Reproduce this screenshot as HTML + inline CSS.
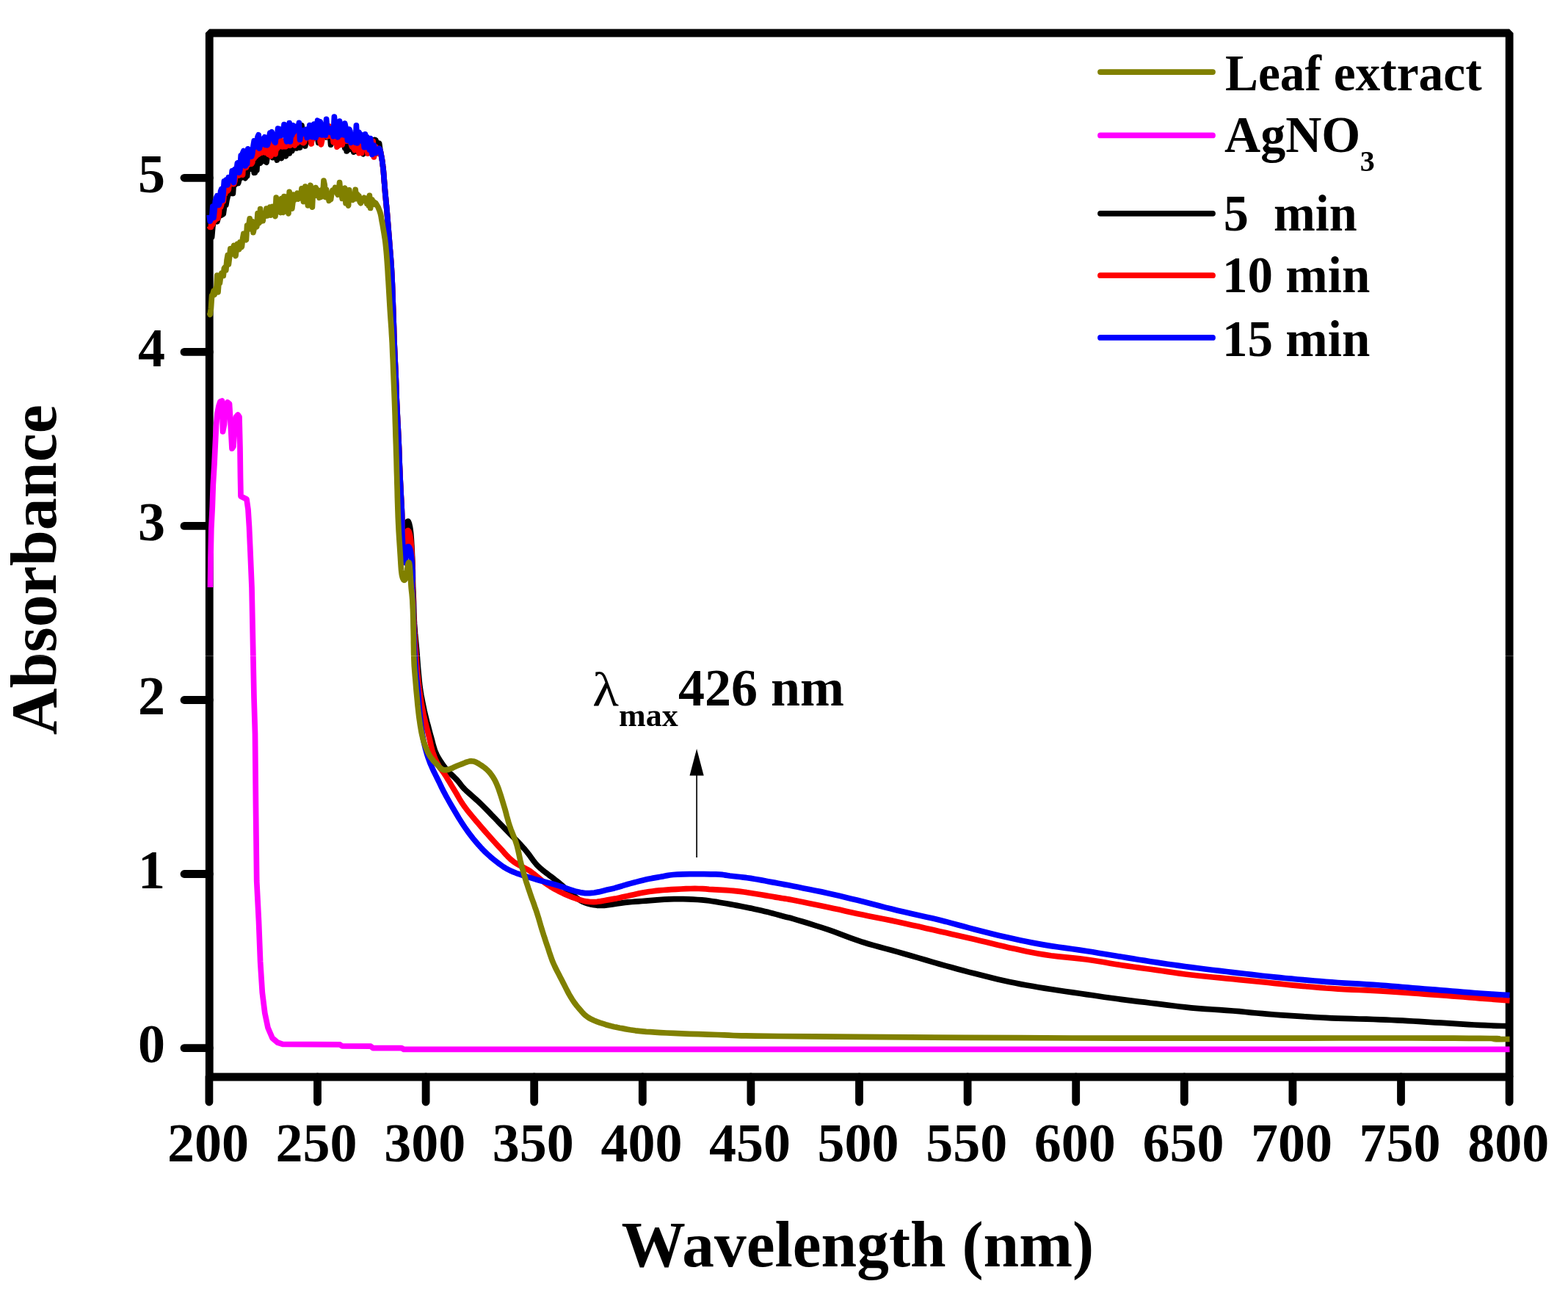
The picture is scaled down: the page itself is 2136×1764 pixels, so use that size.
<!DOCTYPE html>
<html><head><meta charset="utf-8"><style>
html,body{margin:0;padding:0;background:#fff;overflow:hidden;}
svg{display:block;}
text{font-family:"Liberation Serif","Times New Roman",serif;font-weight:bold;fill:#000;}
</style></head><body>
<svg width="2136" height="1764" viewBox="0 0 2136 1764">
<rect width="2136" height="1764" fill="#fff"/>
<g fill="none" stroke="#000" stroke-width="10.8" stroke-linecap="round">
<line x1="284.9" y1="1467.0" x2="284.9" y2="1501"/>
<line x1="432.5" y1="1467.0" x2="432.5" y2="1501"/>
<line x1="580.1" y1="1467.0" x2="580.1" y2="1501"/>
<line x1="727.7" y1="1467.0" x2="727.7" y2="1501"/>
<line x1="875.3" y1="1467.0" x2="875.3" y2="1501"/>
<line x1="1022.9" y1="1467.0" x2="1022.9" y2="1501"/>
<line x1="1170.5" y1="1467.0" x2="1170.5" y2="1501"/>
<line x1="1318.1" y1="1467.0" x2="1318.1" y2="1501"/>
<line x1="1465.7" y1="1467.0" x2="1465.7" y2="1501"/>
<line x1="1613.3" y1="1467.0" x2="1613.3" y2="1501"/>
<line x1="1760.9" y1="1467.0" x2="1760.9" y2="1501"/>
<line x1="1908.5" y1="1467.0" x2="1908.5" y2="1501"/>
<line x1="2056.1" y1="1467.0" x2="2056.1" y2="1501"/>
<line x1="251" y1="1427.6" x2="285.25" y2="1427.6"/>
<line x1="251" y1="1190.5" x2="285.25" y2="1190.5"/>
<line x1="251" y1="953.5" x2="285.25" y2="953.5"/>
<line x1="251" y1="716.4" x2="285.25" y2="716.4"/>
<line x1="251" y1="479.4" x2="285.25" y2="479.4"/>
<line x1="251" y1="242.3" x2="285.25" y2="242.3"/>
</g>
<rect x="285.25" y="45.0" width="1770.90" height="1422.00" fill="none" stroke="#000" stroke-width="10.8" stroke-linejoin="bevel"/>
<g fill="none" stroke-width="7.7" stroke-linejoin="round" stroke-linecap="butt">
<path d="M285.0 321.3 L286.2 326.4 L287.4 302.6 L288.6 322.8 L289.8 309.1 L291.0 301.7 L292.2 299.1 L293.4 294.7 L294.6 297.8 L295.8 301.9 L297.0 297.6 L298.2 295.2 L299.4 277.4 L300.6 275.5 L301.8 293.1 L303.0 286.6 L304.2 291.8 L305.4 283.2 L306.6 266.4 L307.8 279.2 L309.0 272.6 L310.2 267.7 L311.4 258.7 L312.6 261.8 L313.8 258.6 L315.0 263.3 L316.2 256.2 L317.4 263.5 L318.6 246.1 L319.8 252.1 L321.0 250.7 L322.2 240.3 L323.4 236.8 L324.6 249.6 L325.8 244.9 L327.0 239.4 L328.2 242.6 L329.4 235.2 L330.6 240.7 L331.8 234.5 L333.0 238.6 L334.2 242.8 L335.4 233.2 L336.6 240.0 L337.8 226.8 L339.0 230.6 L340.2 222.7 L341.4 229.9 L342.6 230.1 L343.8 227.3 L345.0 225.9 L346.2 235.3 L347.4 235.1 L348.6 217.2 L349.8 232.0 L351.0 212.4 L352.2 218.1 L353.4 221.0 L354.6 222.1 L355.8 213.7 L357.0 214.9 L358.2 219.2 L359.4 213.3 L360.6 212.7 L361.8 220.3 L363.0 221.1 L364.2 213.7 L365.4 213.3 L366.6 212.2 L367.8 208.5 L369.0 207.7 L370.2 203.9 L371.4 214.6 L372.6 209.5 L373.8 208.9 L375.0 210.8 L376.2 212.6 L377.4 218.1 L378.6 206.8 L379.8 205.6 L381.0 209.2 L382.2 202.1 L383.4 215.6 L384.6 213.0 L385.8 211.2 L387.0 205.6 L388.2 210.9 L389.4 212.6 L390.6 208.5 L391.8 202.6 L393.0 192.7 L394.2 208.9 L395.4 199.5 L396.6 195.4 L397.8 205.8 L399.0 201.3 L400.2 188.9 L401.4 196.6 L402.6 194.6 L403.8 201.9 L405.0 182.2 L406.2 191.1 L407.4 191.8 L408.6 201.0 L409.8 183.8 L411.0 170.9 L412.2 180.1 L413.4 189.9 L414.6 193.0 L415.8 198.9 L417.0 190.1 L418.2 182.1 L419.4 193.0 L420.6 187.0 L421.8 185.7 L423.0 187.0 L424.2 195.0 L425.4 180.7 L426.6 179.8 L427.8 185.9 L429.0 185.8 L430.2 180.8 L431.4 180.2 L432.6 188.3 L433.8 194.4 L435.0 190.2 L436.2 189.9 L437.4 193.4 L438.6 172.2 L439.8 175.2 L441.0 180.7 L442.2 177.9 L443.4 179.6 L444.6 186.9 L445.8 178.5 L447.0 184.3 L448.2 174.3 L449.4 181.6 L450.6 197.1 L451.8 185.2 L453.0 191.2 L454.2 194.1 L455.4 186.7 L456.6 194.0 L457.8 192.0 L459.0 195.5 L460.2 187.2 L461.4 182.4 L462.6 185.5 L463.8 189.0 L465.0 196.5 L466.2 192.1 L467.4 191.2 L468.6 193.1 L469.8 201.8 L471.0 191.6 L472.2 205.9 L473.4 188.8 L474.6 193.6 L475.8 203.7 L477.0 202.2 L478.2 194.0 L479.4 199.5 L480.6 196.3 L481.8 207.2 L483.0 205.9 L484.2 198.4 L485.4 206.1 L486.6 201.0 L487.8 202.8 L489.0 203.6 L490.2 199.4 L491.4 205.7 L492.6 205.8 L493.8 205.5 L495.0 209.8 L496.2 200.7 L497.4 192.7 L498.6 199.1 L499.8 203.4 L501.0 201.8 L502.2 205.0 L503.4 205.9 L504.6 199.4 L505.8 198.9 L507.0 192.6 L508.2 205.2 L509.4 196.2 L510.6 190.5 L511.8 190.9 L513.0 195.1 L514.2 201.3 L515.4 197.6 L516.6 195.2 L518.0 205.0 L518.3 206.4 L518.7 208.2 L519.1 210.4 L519.6 212.9 L520.1 215.5 L520.5 218.0 L520.9 220.5 L521.2 223.1 L521.5 225.8 L521.9 228.6 L522.2 231.7 L522.5 235.0 L522.8 238.6 L523.1 242.6 L523.4 246.7 L523.8 251.0 L524.1 255.5 L524.5 260.0 L524.9 264.6 L525.4 269.3 L525.8 274.1 L526.3 279.1 L526.8 284.4 L527.3 290.0 L527.8 296.1 L528.3 302.6 L528.9 309.4 L529.4 316.3 L530.0 323.2 L530.5 330.0 L531.0 336.6 L531.6 343.0 L532.1 349.4 L532.6 355.9 L533.1 362.8 L533.5 370.0 L533.9 377.8 L534.3 385.9 L534.6 394.4 L534.9 403.0 L535.2 411.6 L535.5 420.0 L535.8 428.4 L536.1 437.0 L536.4 445.6 L536.6 454.1 L536.9 462.2 L537.2 470.0 L537.5 477.2 L537.8 484.1 L538.1 490.6 L538.4 497.0 L538.7 503.4 L539.0 510.0 L539.3 516.6 L539.5 523.0 L539.7 529.4 L539.9 535.9 L540.2 542.8 L540.5 550.0 L540.9 557.8 L541.3 565.9 L541.7 574.4 L542.2 583.0 L542.6 591.6 L543.0 600.0 L543.4 608.4 L543.7 616.9 L544.0 625.3 L544.3 633.7 L544.7 642.0 L545.0 650.0 L545.4 658.0 L545.8 666.1 L546.2 674.1 L546.6 681.7 L547.0 688.7 L547.3 695.0 L547.5 700.3 L547.6 704.6 L547.7 708.4 L547.7 712.0 L547.8 715.8 L548.0 720.0 L548.3 724.9 L548.6 730.3 L548.9 735.8 L549.3 741.1 L549.7 746.0 L550.0 750.0 L550.3 753.7 L550.7 757.5 L551.0 760.8 L551.3 763.0 L551.7 763.6 L552.0 762.0 L552.3 757.2 L552.6 749.4 L552.9 740.0 L553.3 730.4 L553.6 721.9 L554.0 716.0 L554.4 712.6 L554.9 710.7 L555.4 710.0 L556.0 710.1 L556.5 710.9 L557.0 712.0 L557.5 713.5 L558.0 715.6 L558.6 718.2 L559.1 721.6 L559.6 725.5 L560.0 730.0 L560.4 735.6 L560.8 742.3 L561.2 749.6 L561.5 757.0 L561.8 763.9 L562.0 770.0 L562.2 775.0 L562.3 779.4 L562.3 783.4 L562.4 787.2 L562.4 791.0 L562.5 795.0 L562.6 799.1 L562.8 803.1 L563.0 807.2 L563.1 811.3 L563.3 815.5 L563.5 820.0 L563.6 824.6 L563.7 829.3 L563.8 834.1 L564.0 839.1 L564.2 844.4 L564.5 850.0 L565.0 856.3 L565.5 863.1 L566.2 870.3 L566.9 877.4 L567.5 884.1 L568.0 890.0 L568.4 895.0 L568.7 899.4 L569.0 903.3 L569.3 907.1 L569.6 910.9 L570.0 915.0 L570.4 919.3 L570.8 923.7 L571.2 928.1 L571.7 932.6 L572.3 937.2 L573.0 942.0 L573.8 946.9 L574.8 952.0 L575.8 957.2 L576.9 962.5 L578.0 967.8 L579.2 973.0 L580.5 978.3 L581.8 983.7 L583.3 989.1 L584.7 994.4 L586.0 999.4 L587.3 1004.0 L588.4 1008.1 L589.4 1011.9 L590.3 1015.4 L591.3 1018.7 L592.3 1021.9 L593.5 1025.0 L594.9 1028.0 L596.4 1030.9 L598.0 1033.7 L599.7 1036.3 L601.3 1038.7 L602.8 1041.0 L604.2 1043.0 L605.5 1044.7 L606.7 1046.2 L608.0 1047.7 L609.4 1049.3 L611.0 1051.0 L612.8 1052.9 L614.8 1054.9 L616.9 1056.9 L619.0 1058.9 L621.1 1061.0 L623.0 1063.0 L624.6 1064.9 L626.0 1066.7 L627.3 1068.4 L628.8 1070.3 L630.6 1072.5 L633.0 1075.0 L636.0 1077.9 L639.5 1081.0 L643.3 1084.4 L647.4 1088.0 L651.7 1091.9 L656.0 1096.0 L660.5 1100.4 L665.2 1105.2 L670.0 1110.3 L675.0 1115.4 L679.9 1120.6 L684.8 1125.7 L689.8 1130.8 L694.9 1136.0 L700.1 1141.2 L705.1 1146.3 L709.7 1151.2 L713.9 1155.8 L717.5 1160.1 L720.6 1164.1 L723.4 1168.0 L726.0 1171.6 L728.6 1174.9 L731.2 1178.0 L733.9 1180.7 L736.5 1183.1 L739.1 1185.2 L741.6 1187.2 L744.1 1189.1 L746.6 1191.0 L749.0 1192.9 L751.4 1194.7 L753.7 1196.4 L756.0 1198.2 L758.4 1200.0 L760.9 1202.0 L763.5 1204.2 L766.1 1206.5 L768.8 1208.9 L771.5 1211.3 L774.2 1213.7 L777.0 1216.0 L779.7 1218.3 L782.4 1220.6 L785.1 1222.8 L787.9 1224.9 L790.9 1226.9 L794.2 1228.5 L797.7 1229.9 L801.3 1231.1 L805.1 1232.0 L809.1 1232.8 L813.4 1233.3 L818.0 1233.5 L823.1 1233.3 L828.6 1232.7 L834.3 1231.9 L840.2 1231.0 L845.9 1230.1 L851.3 1229.4 L856.2 1228.9 L860.9 1228.5 L865.4 1228.1 L869.9 1227.8 L874.7 1227.5 L880.0 1227.1 L885.8 1226.7 L892.0 1226.2 L898.4 1225.7 L905.0 1225.2 L911.6 1224.9 L918.0 1224.7 L924.4 1224.7 L931.0 1224.7 L937.6 1224.9 L944.0 1225.2 L950.2 1225.5 L956.0 1225.9 L961.3 1226.4 L966.3 1227.0 L970.9 1227.7 L975.5 1228.4 L980.0 1229.2 L984.7 1230.0 L989.5 1230.8 L994.2 1231.6 L999.0 1232.5 L1003.7 1233.4 L1008.4 1234.3 L1013.2 1235.2 L1018.0 1236.2 L1022.7 1237.1 L1027.5 1238.2 L1032.3 1239.2 L1037.0 1240.3 L1041.8 1241.4 L1046.8 1242.6 L1052.0 1244.0 L1057.2 1245.4 L1062.2 1246.8 L1066.6 1248.0 L1070.3 1249.0 L1072.6 1249.6 L1073.5 1249.7 L1074.0 1249.8 L1074.7 1249.9 L1076.4 1250.3 L1080.0 1251.4 L1085.7 1253.1 L1093.1 1255.3 L1101.4 1257.8 L1110.3 1260.6 L1119.2 1263.4 L1127.6 1266.1 L1135.5 1268.9 L1143.4 1271.8 L1151.3 1274.8 L1159.3 1277.8 L1167.2 1280.6 L1175.1 1283.3 L1182.9 1285.7 L1190.6 1287.9 L1198.3 1290.0 L1206.1 1292.1 L1214.2 1294.2 L1222.7 1296.6 L1231.8 1299.2 L1241.4 1302.0 L1251.4 1304.9 L1261.3 1307.8 L1270.9 1310.6 L1280.0 1313.2 L1288.5 1315.6 L1296.6 1317.8 L1304.4 1320.0 L1312.1 1322.0 L1319.8 1324.1 L1327.6 1326.1 L1335.5 1328.1 L1343.4 1330.1 L1351.3 1332.1 L1359.3 1334.0 L1367.2 1335.8 L1375.1 1337.5 L1382.9 1339.1 L1390.6 1340.6 L1398.3 1342.0 L1406.1 1343.3 L1414.2 1344.7 L1422.7 1346.1 L1431.8 1347.5 L1441.4 1349.0 L1451.4 1350.5 L1461.3 1351.9 L1470.9 1353.3 L1480.0 1354.6 L1488.5 1355.8 L1496.6 1357.0 L1504.4 1358.2 L1512.1 1359.3 L1519.8 1360.3 L1527.6 1361.4 L1535.5 1362.4 L1543.4 1363.4 L1551.3 1364.3 L1559.3 1365.2 L1567.2 1366.2 L1575.1 1367.1 L1582.9 1368.1 L1590.6 1369.1 L1598.3 1370.0 L1606.1 1371.0 L1614.2 1371.9 L1622.7 1372.8 L1631.8 1373.6 L1641.4 1374.3 L1651.4 1375.0 L1661.3 1375.6 L1670.9 1376.3 L1680.0 1377.0 L1688.5 1377.7 L1696.6 1378.5 L1704.4 1379.3 L1712.1 1380.0 L1719.8 1380.7 L1727.6 1381.4 L1735.5 1382.0 L1743.4 1382.6 L1751.3 1383.2 L1759.3 1383.7 L1767.2 1384.2 L1775.1 1384.7 L1782.9 1385.2 L1790.6 1385.6 L1798.3 1386.0 L1806.1 1386.4 L1814.2 1386.8 L1822.7 1387.1 L1831.8 1387.4 L1841.5 1387.7 L1851.5 1388.0 L1861.4 1388.2 L1871.0 1388.5 L1880.0 1388.8 L1888.2 1389.1 L1896.0 1389.5 L1903.4 1389.8 L1910.6 1390.2 L1917.8 1390.6 L1925.2 1391.0 L1932.7 1391.4 L1940.3 1391.9 L1947.8 1392.3 L1955.3 1392.8 L1962.9 1393.2 L1970.4 1393.7 L1978.0 1394.2 L1985.6 1394.6 L1993.3 1395.1 L2000.9 1395.6 L2008.3 1396.0 L2015.6 1396.4 L2023.1 1396.7 L2031.1 1397.0 L2038.9 1397.3 L2046.1 1397.5 L2052.1 1397.7 L2056.5 1397.8" stroke="#000000"/>
<path d="M285.0 307.4 L286.2 309.4 L287.4 309.4 L288.6 296.8 L289.8 305.8 L291.0 300.1 L292.2 301.0 L293.4 295.3 L294.6 298.6 L295.8 282.4 L297.0 297.4 L298.2 291.1 L299.4 276.7 L300.6 282.3 L301.8 278.3 L303.0 261.5 L304.2 274.2 L305.4 264.3 L306.6 264.3 L307.8 259.9 L309.0 258.9 L310.2 259.9 L311.4 257.9 L312.6 245.0 L313.8 251.3 L315.0 242.3 L316.2 240.8 L317.4 244.8 L318.6 250.6 L319.8 247.1 L321.0 237.1 L322.2 234.4 L323.4 231.6 L324.6 235.9 L325.8 239.0 L327.0 231.4 L328.2 234.8 L329.4 231.4 L330.6 238.1 L331.8 214.3 L333.0 212.4 L334.2 223.9 L335.4 228.3 L336.6 220.4 L337.8 224.8 L339.0 213.3 L340.2 211.7 L341.4 214.2 L342.6 223.3 L343.8 221.3 L345.0 211.0 L346.2 215.8 L347.4 209.5 L348.6 213.0 L349.8 204.8 L351.0 211.0 L352.2 205.7 L353.4 209.3 L354.6 204.6 L355.8 202.6 L357.0 207.9 L358.2 204.1 L359.4 205.7 L360.6 202.0 L361.8 207.9 L363.0 197.7 L364.2 207.2 L365.4 210.1 L366.6 198.8 L367.8 211.1 L369.0 212.6 L370.2 202.1 L371.4 190.2 L372.6 188.3 L373.8 197.4 L375.0 209.9 L376.2 201.9 L377.4 202.8 L378.6 196.1 L379.8 192.6 L381.0 199.7 L382.2 189.8 L383.4 195.5 L384.6 199.9 L385.8 196.6 L387.0 199.6 L388.2 193.0 L389.4 199.6 L390.6 198.1 L391.8 184.4 L393.0 188.0 L394.2 189.7 L395.4 198.2 L396.6 195.5 L397.8 194.9 L399.0 193.8 L400.2 196.4 L401.4 197.9 L402.6 187.8 L403.8 180.6 L405.0 194.8 L406.2 188.7 L407.4 190.0 L408.6 188.1 L409.8 181.5 L411.0 178.5 L412.2 194.2 L413.4 194.6 L414.6 193.3 L415.8 188.3 L417.0 188.4 L418.2 183.6 L419.4 186.5 L420.6 183.1 L421.8 181.9 L423.0 186.5 L424.2 195.9 L425.4 172.3 L426.6 188.2 L427.8 188.4 L429.0 175.8 L430.2 185.4 L431.4 183.8 L432.6 179.8 L433.8 179.3 L435.0 173.1 L436.2 193.0 L437.4 196.9 L438.6 191.7 L439.8 179.2 L441.0 183.1 L442.2 184.0 L443.4 176.6 L444.6 180.5 L445.8 186.0 L447.0 180.1 L448.2 171.7 L449.4 175.3 L450.6 185.5 L451.8 182.0 L453.0 182.5 L454.2 193.6 L455.4 185.7 L456.6 194.8 L457.8 185.3 L459.0 200.1 L460.2 179.1 L461.4 198.3 L462.6 196.4 L463.8 186.3 L465.0 185.5 L466.2 197.2 L467.4 189.9 L468.6 185.2 L469.8 175.8 L471.0 190.6 L472.2 192.1 L473.4 190.7 L474.6 189.0 L475.8 192.3 L477.0 189.6 L478.2 195.9 L479.4 200.0 L480.6 200.7 L481.8 201.9 L483.0 204.4 L484.2 200.1 L485.4 191.8 L486.6 202.5 L487.8 186.0 L489.0 208.6 L490.2 199.7 L491.4 187.4 L492.6 208.4 L493.8 192.8 L495.0 190.2 L496.2 195.5 L497.4 196.0 L498.6 201.3 L499.8 201.0 L501.0 209.2 L502.2 201.9 L503.4 204.5 L504.6 197.4 L505.8 207.5 L507.0 199.6 L508.2 192.4 L509.4 213.9 L510.6 199.0 L511.8 200.1 L513.0 202.9 L514.2 209.0 L515.4 204.8 L516.6 207.7 L518.0 205.0 L518.3 206.4 L518.7 208.2 L519.1 210.4 L519.6 212.9 L520.1 215.5 L520.5 218.0 L520.9 220.5 L521.2 223.1 L521.5 225.8 L521.9 228.6 L522.2 231.7 L522.5 235.0 L522.8 238.6 L523.1 242.6 L523.4 246.7 L523.8 251.0 L524.1 255.5 L524.5 260.0 L524.9 264.6 L525.4 269.3 L525.8 274.1 L526.3 279.1 L526.8 284.4 L527.3 290.0 L527.8 296.1 L528.3 302.6 L528.9 309.4 L529.4 316.3 L530.0 323.2 L530.5 330.0 L531.0 336.6 L531.6 343.0 L532.1 349.4 L532.6 355.9 L533.1 362.8 L533.5 370.0 L533.9 377.8 L534.3 385.9 L534.6 394.4 L534.9 403.0 L535.2 411.6 L535.5 420.0 L535.8 428.4 L536.1 437.0 L536.4 445.6 L536.6 454.1 L536.9 462.2 L537.2 470.0 L537.5 477.2 L537.8 484.1 L538.1 490.6 L538.4 497.0 L538.7 503.4 L539.0 510.0 L539.3 516.6 L539.5 523.0 L539.7 529.4 L539.9 535.9 L540.2 542.8 L540.5 550.0 L540.9 557.8 L541.3 565.9 L541.7 574.4 L542.2 583.0 L542.6 591.6 L543.0 600.0 L543.4 608.4 L543.7 616.9 L544.0 625.3 L544.3 633.7 L544.7 642.0 L545.0 650.0 L545.4 658.0 L545.8 665.9 L546.2 673.8 L546.6 681.3 L547.0 688.4 L547.3 695.0 L547.5 700.9 L547.6 706.1 L547.7 710.9 L547.7 715.6 L547.8 720.2 L548.0 725.0 L548.3 730.2 L548.6 735.7 L548.9 741.2 L549.3 746.5 L549.7 751.2 L550.0 755.0 L550.3 758.4 L550.7 761.6 L551.0 764.2 L551.3 765.9 L551.7 766.3 L552.0 765.0 L552.3 761.2 L552.6 754.9 L552.9 747.4 L553.3 739.6 L553.6 732.8 L554.0 728.0 L554.4 725.2 L554.9 723.5 L555.4 722.7 L556.0 722.6 L556.5 723.1 L557.0 724.0 L557.5 725.3 L558.0 727.1 L558.6 729.6 L559.1 732.5 L559.6 736.0 L560.0 740.0 L560.4 744.9 L560.8 750.7 L561.2 757.1 L561.5 763.6 L561.8 769.7 L562.0 775.0 L562.1 779.4 L562.1 783.3 L562.1 786.8 L562.0 790.1 L562.0 793.4 L562.0 797.0 L562.1 800.7 L562.3 804.3 L562.4 808.0 L562.6 811.8 L562.8 815.8 L563.0 820.0 L563.1 824.5 L563.3 829.1 L563.4 833.9 L563.6 839.0 L563.7 844.3 L564.0 850.0 L564.3 856.3 L564.7 863.1 L565.2 870.3 L565.6 877.4 L566.1 884.1 L566.5 890.0 L566.8 895.0 L567.2 899.4 L567.5 903.3 L567.8 907.1 L568.1 910.9 L568.5 915.0 L568.9 919.3 L569.4 923.7 L569.8 928.1 L570.4 932.6 L570.9 937.2 L571.6 942.0 L572.3 946.9 L573.2 952.0 L574.0 957.2 L575.0 962.5 L576.0 967.8 L577.0 973.0 L578.2 978.3 L579.4 983.7 L580.8 989.1 L582.1 994.4 L583.4 999.4 L584.5 1004.0 L585.5 1008.1 L586.3 1011.9 L587.1 1015.4 L587.9 1018.7 L588.7 1021.8 L589.7 1025.0 L590.8 1028.1 L591.9 1031.1 L593.1 1034.0 L594.4 1036.8 L595.7 1039.4 L597.0 1042.0 L598.3 1044.3 L599.7 1046.3 L601.1 1048.1 L602.6 1050.1 L604.2 1052.3 L606.0 1055.0 L608.1 1058.3 L610.3 1062.0 L612.8 1066.0 L615.2 1070.1 L617.7 1074.2 L620.0 1078.0 L622.1 1081.5 L624.0 1084.9 L625.9 1088.2 L628.0 1091.6 L630.3 1095.1 L633.0 1099.0 L636.2 1103.3 L639.9 1107.9 L643.8 1112.6 L647.9 1117.5 L652.0 1122.3 L656.0 1127.0 L660.0 1131.6 L664.1 1136.3 L668.2 1140.9 L672.3 1145.5 L676.3 1149.8 L680.0 1153.8 L683.4 1157.5 L686.5 1161.1 L689.5 1164.4 L692.5 1167.5 L695.6 1170.5 L699.0 1173.3 L702.7 1175.9 L706.6 1178.1 L710.6 1180.3 L714.7 1182.4 L718.8 1184.6 L722.8 1187.1 L726.7 1190.0 L730.6 1193.1 L734.4 1196.3 L738.3 1199.5 L742.4 1202.7 L746.6 1205.6 L751.1 1208.4 L755.7 1211.1 L760.6 1213.7 L765.4 1216.1 L770.3 1218.4 L775.1 1220.4 L779.9 1222.3 L784.6 1224.0 L789.4 1225.6 L794.2 1226.9 L798.9 1227.9 L803.7 1228.5 L808.5 1228.6 L813.4 1228.3 L818.3 1227.6 L823.1 1226.7 L827.8 1225.9 L832.2 1225.1 L836.3 1224.4 L840.1 1223.7 L843.8 1222.9 L847.4 1222.1 L851.1 1221.3 L855.0 1220.5 L859.0 1219.6 L863.0 1218.7 L867.1 1217.8 L871.3 1216.8 L875.6 1216.0 L880.0 1215.2 L884.4 1214.5 L888.9 1214.0 L893.4 1213.4 L898.2 1212.9 L903.2 1212.5 L908.5 1212.1 L914.4 1211.7 L920.8 1211.3 L927.5 1211.0 L934.3 1210.7 L940.7 1210.5 L946.6 1210.4 L951.9 1210.5 L956.8 1210.6 L961.4 1210.9 L965.9 1211.3 L970.5 1211.6 L975.1 1211.9 L979.9 1212.2 L984.6 1212.4 L989.4 1212.7 L994.2 1213.0 L998.9 1213.3 L1003.7 1213.8 L1008.5 1214.4 L1013.2 1215.0 L1018.0 1215.7 L1022.7 1216.5 L1027.4 1217.2 L1032.2 1218.0 L1037.1 1218.8 L1042.1 1219.6 L1047.1 1220.5 L1052.0 1221.3 L1056.6 1222.1 L1060.8 1222.8 L1064.2 1223.4 L1066.8 1223.7 L1069.2 1224.1 L1071.8 1224.5 L1075.3 1225.1 L1080.0 1226.0 L1086.3 1227.2 L1093.8 1228.7 L1102.0 1230.4 L1110.7 1232.2 L1119.3 1234.0 L1127.6 1235.7 L1135.5 1237.4 L1143.4 1239.1 L1151.3 1240.9 L1159.3 1242.7 L1167.2 1244.4 L1175.1 1246.1 L1182.9 1247.7 L1190.6 1249.2 L1198.3 1250.7 L1206.1 1252.3 L1214.2 1253.9 L1222.7 1255.7 L1231.8 1257.7 L1241.4 1259.9 L1251.4 1262.1 L1261.3 1264.4 L1270.9 1266.6 L1280.0 1268.7 L1288.5 1270.6 L1296.6 1272.4 L1304.4 1274.2 L1312.1 1275.9 L1319.8 1277.7 L1327.6 1279.5 L1335.5 1281.4 L1343.4 1283.3 L1351.3 1285.3 L1359.3 1287.2 L1367.2 1289.1 L1375.1 1290.9 L1382.9 1292.6 L1390.6 1294.3 L1398.3 1296.0 L1406.1 1297.5 L1414.2 1299.0 L1422.7 1300.4 L1431.8 1301.7 L1441.4 1302.8 L1451.4 1303.8 L1461.3 1304.8 L1470.9 1305.9 L1480.0 1307.0 L1488.5 1308.2 L1496.6 1309.5 L1504.4 1310.8 L1512.1 1312.2 L1519.8 1313.5 L1527.6 1314.7 L1535.5 1315.9 L1543.4 1317.0 L1551.3 1318.1 L1559.3 1319.2 L1567.2 1320.3 L1575.1 1321.4 L1582.9 1322.5 L1590.6 1323.6 L1598.3 1324.8 L1606.1 1325.9 L1614.2 1327.0 L1622.7 1328.0 L1631.8 1329.0 L1641.4 1330.0 L1651.4 1331.0 L1661.3 1331.9 L1670.9 1332.8 L1680.0 1333.7 L1688.5 1334.6 L1696.6 1335.4 L1704.4 1336.2 L1712.1 1336.9 L1719.8 1337.7 L1727.6 1338.5 L1735.5 1339.3 L1743.4 1340.1 L1751.3 1341.0 L1759.3 1341.8 L1767.2 1342.6 L1775.1 1343.3 L1782.9 1344.0 L1790.6 1344.7 L1798.3 1345.3 L1806.1 1346.0 L1814.2 1346.5 L1822.7 1347.1 L1831.8 1347.6 L1841.5 1348.1 L1851.5 1348.5 L1861.4 1348.9 L1871.0 1349.3 L1880.0 1349.8 L1888.2 1350.3 L1896.0 1350.8 L1903.4 1351.4 L1910.6 1351.9 L1917.8 1352.5 L1925.2 1353.0 L1932.7 1353.5 L1940.3 1354.1 L1947.8 1354.6 L1955.3 1355.1 L1962.9 1355.6 L1970.4 1356.2 L1978.0 1356.8 L1985.6 1357.4 L1993.3 1358.0 L2000.9 1358.6 L2008.3 1359.2 L2015.6 1359.8 L2023.1 1360.4 L2031.1 1361.0 L2038.9 1361.6 L2046.1 1362.1 L2052.1 1362.6 L2056.5 1362.9" stroke="#ff0000"/>
<path d="M285.0 292.8 L286.2 301.3 L287.4 296.5 L288.6 297.6 L289.8 281.2 L291.0 296.6 L292.2 286.1 L293.4 273.7 L294.6 269.5 L295.8 266.8 L297.0 268.2 L298.2 279.5 L299.4 274.3 L300.6 260.4 L301.8 257.4 L303.0 272.9 L304.2 262.2 L305.4 246.8 L306.6 249.1 L307.8 245.1 L309.0 247.9 L310.2 251.9 L311.4 241.7 L312.6 245.0 L313.8 245.1 L315.0 245.3 L316.2 232.9 L317.4 234.1 L318.6 248.6 L319.8 230.6 L321.0 230.3 L322.2 231.5 L323.4 222.0 L324.6 221.5 L325.8 235.2 L327.0 230.8 L328.2 211.9 L329.4 219.8 L330.6 208.6 L331.8 205.6 L333.0 215.8 L334.2 226.0 L335.4 212.7 L336.6 223.1 L337.8 202.9 L339.0 210.6 L340.2 209.0 L341.4 207.7 L342.6 213.3 L343.8 208.9 L345.0 199.2 L346.2 192.0 L347.4 196.9 L348.6 199.9 L349.8 194.9 L351.0 186.6 L352.2 183.8 L353.4 202.1 L354.6 196.9 L355.8 189.6 L357.0 196.3 L358.2 195.7 L359.4 189.3 L360.6 186.7 L361.8 197.5 L363.0 194.3 L364.2 197.7 L365.4 193.5 L366.6 187.0 L367.8 181.1 L369.0 181.7 L370.2 179.8 L371.4 184.7 L372.6 185.7 L373.8 192.9 L375.0 194.2 L376.2 183.9 L377.4 186.9 L378.6 175.2 L379.8 178.9 L381.0 175.8 L382.2 184.8 L383.4 179.8 L384.6 178.0 L385.8 183.5 L387.0 169.6 L388.2 182.9 L389.4 187.0 L390.6 192.8 L391.8 174.6 L393.0 180.1 L394.2 167.7 L395.4 192.8 L396.6 181.2 L397.8 184.1 L399.0 170.8 L400.2 180.1 L401.4 177.1 L402.6 172.4 L403.8 172.4 L405.0 173.9 L406.2 174.3 L407.4 167.4 L408.6 190.2 L409.8 179.8 L411.0 180.7 L412.2 180.3 L413.4 177.4 L414.6 178.3 L415.8 182.7 L417.0 176.3 L418.2 187.6 L419.4 176.2 L420.6 186.2 L421.8 170.6 L423.0 179.3 L424.2 182.1 L425.4 186.6 L426.6 186.5 L427.8 169.1 L429.0 171.3 L430.2 187.5 L431.4 172.9 L432.6 164.2 L433.8 183.5 L435.0 179.5 L436.2 165.9 L437.4 170.2 L438.6 183.8 L439.8 170.8 L441.0 170.1 L442.2 171.3 L443.4 184.2 L444.6 162.4 L445.8 177.2 L447.0 175.4 L448.2 178.0 L449.4 180.1 L450.6 175.1 L451.8 179.3 L453.0 178.5 L454.2 185.8 L455.4 159.0 L456.6 174.9 L457.8 176.8 L459.0 166.6 L460.2 186.8 L461.4 181.0 L462.6 165.2 L463.8 176.0 L465.0 183.5 L466.2 179.5 L467.4 173.7 L468.6 183.9 L469.8 168.2 L471.0 173.8 L472.2 179.4 L473.4 191.2 L474.6 191.0 L475.8 176.0 L477.0 179.0 L478.2 194.5 L479.4 189.2 L480.6 185.9 L481.8 183.8 L483.0 188.2 L484.2 194.1 L485.4 170.9 L486.6 194.9 L487.8 182.5 L489.0 180.2 L490.2 185.6 L491.4 183.0 L492.6 184.3 L493.8 192.6 L495.0 189.7 L496.2 200.7 L497.4 182.8 L498.6 200.5 L499.8 186.5 L501.0 197.2 L502.2 194.2 L503.4 204.1 L504.6 188.5 L505.8 199.0 L507.0 210.5 L508.2 208.9 L509.4 198.2 L510.6 206.4 L511.8 208.2 L513.0 204.4 L514.2 206.5 L515.4 204.9 L516.6 202.3 L518.0 205.0 L518.3 206.4 L518.7 208.2 L519.1 210.4 L519.6 212.9 L520.1 215.5 L520.5 218.0 L520.9 220.5 L521.2 223.1 L521.5 225.8 L521.9 228.6 L522.2 231.7 L522.5 235.0 L522.8 238.6 L523.1 242.6 L523.4 246.7 L523.8 251.0 L524.1 255.5 L524.5 260.0 L524.9 264.6 L525.4 269.3 L525.8 274.1 L526.3 279.1 L526.8 284.4 L527.3 290.0 L527.8 296.1 L528.3 302.6 L528.9 309.4 L529.4 316.3 L530.0 323.2 L530.5 330.0 L531.0 336.6 L531.6 343.0 L532.1 349.4 L532.6 355.9 L533.1 362.8 L533.5 370.0 L533.9 377.8 L534.3 385.9 L534.6 394.4 L534.9 403.0 L535.2 411.6 L535.5 420.0 L535.8 428.4 L536.1 437.0 L536.4 445.6 L536.6 454.1 L536.9 462.2 L537.2 470.0 L537.5 477.2 L537.8 484.1 L538.1 490.6 L538.4 497.0 L538.7 503.4 L539.0 510.0 L539.3 516.6 L539.5 523.0 L539.7 529.4 L539.9 535.9 L540.2 542.8 L540.5 550.0 L540.9 557.8 L541.3 565.9 L541.7 574.4 L542.2 583.0 L542.6 591.6 L543.0 600.0 L543.4 608.4 L543.7 616.9 L544.0 625.3 L544.3 633.7 L544.7 642.0 L545.0 650.0 L545.4 657.9 L545.8 665.7 L546.2 673.4 L546.6 680.9 L547.0 688.1 L547.3 695.0 L547.5 701.5 L547.6 707.7 L547.7 713.6 L547.7 719.2 L547.8 724.7 L548.0 730.0 L548.3 735.3 L548.6 740.6 L548.9 745.7 L549.3 750.4 L549.7 754.6 L550.0 758.0 L550.3 760.8 L550.7 763.1 L551.0 764.9 L551.3 766.0 L551.7 766.4 L552.0 766.0 L552.3 764.3 L552.6 761.4 L552.9 757.7 L553.3 753.9 L553.6 750.4 L554.0 748.0 L554.4 746.5 L554.9 745.4 L555.4 744.8 L556.0 744.5 L556.5 744.6 L557.0 745.0 L557.5 745.7 L558.0 746.8 L558.6 748.2 L559.1 750.1 L559.6 752.3 L560.0 755.0 L560.4 758.4 L560.8 762.4 L561.2 766.9 L561.6 771.5 L561.8 775.9 L562.0 780.0 L562.0 783.6 L562.0 787.0 L561.8 790.3 L561.6 793.5 L561.5 796.7 L561.5 800.0 L561.6 803.2 L561.7 806.3 L561.9 809.4 L562.1 812.6 L562.3 816.1 L562.5 820.0 L562.7 824.3 L562.8 828.9 L563.0 833.8 L563.1 838.9 L563.3 844.3 L563.5 850.0 L563.7 856.3 L564.0 863.1 L564.2 870.3 L564.5 877.4 L564.7 884.1 L565.0 890.0 L565.2 895.0 L565.4 899.4 L565.7 903.3 L565.9 907.1 L566.2 910.9 L566.5 915.0 L566.9 919.3 L567.4 923.7 L567.9 928.1 L568.5 932.6 L569.0 937.2 L569.5 942.0 L569.9 946.9 L570.3 952.0 L570.7 957.2 L571.1 962.5 L571.5 967.8 L572.0 973.0 L572.6 978.3 L573.2 983.7 L573.8 989.1 L574.5 994.4 L575.3 999.4 L576.0 1004.0 L576.8 1008.1 L577.6 1011.9 L578.4 1015.4 L579.2 1018.7 L580.1 1021.8 L581.0 1025.0 L581.9 1028.1 L582.8 1030.9 L583.8 1033.7 L584.8 1036.4 L585.8 1039.2 L587.0 1042.0 L588.2 1044.8 L589.4 1047.5 L590.7 1050.3 L592.1 1053.2 L593.7 1056.4 L595.5 1060.0 L597.5 1064.0 L599.6 1068.4 L601.8 1073.0 L604.3 1077.9 L607.0 1083.1 L610.0 1088.5 L613.3 1094.4 L617.0 1100.8 L621.0 1107.5 L625.0 1114.2 L629.1 1120.7 L633.0 1126.6 L636.8 1132.0 L640.6 1137.2 L644.4 1142.1 L648.3 1146.8 L652.1 1151.2 L656.0 1155.5 L660.0 1159.6 L664.1 1163.5 L668.2 1167.2 L672.3 1170.6 L676.3 1173.8 L680.0 1176.6 L683.3 1179.0 L686.3 1181.1 L689.2 1182.8 L692.1 1184.4 L695.3 1186.0 L699.0 1187.6 L703.2 1189.3 L707.8 1190.9 L712.7 1192.5 L717.7 1194.1 L722.7 1195.6 L727.6 1197.1 L732.2 1198.5 L736.6 1199.7 L741.1 1200.9 L745.7 1202.2 L750.6 1203.5 L756.1 1205.0 L762.3 1206.9 L769.0 1209.2 L776.1 1211.6 L783.3 1213.9 L790.4 1215.6 L797.0 1216.6 L803.3 1216.7 L809.6 1216.0 L815.7 1214.9 L821.6 1213.5 L827.1 1212.1 L832.2 1210.9 L836.7 1209.9 L840.6 1208.8 L844.2 1207.7 L847.7 1206.7 L851.2 1205.6 L855.0 1204.5 L859.1 1203.4 L863.4 1202.3 L867.7 1201.1 L872.0 1200.0 L876.2 1199.0 L880.0 1198.1 L883.5 1197.3 L886.6 1196.7 L889.6 1196.1 L892.5 1195.6 L895.6 1195.1 L899.0 1194.5 L902.4 1193.9 L905.5 1193.2 L908.8 1192.6 L912.6 1192.0 L917.1 1191.5 L922.8 1191.1 L930.3 1190.9 L939.4 1190.7 L949.2 1190.7 L959.1 1190.7 L968.0 1190.8 L975.1 1190.9 L980.1 1191.1 L983.6 1191.4 L986.1 1191.7 L988.4 1192.1 L990.9 1192.5 L994.2 1193.0 L998.4 1193.5 L1003.0 1194.0 L1007.9 1194.5 L1012.8 1195.1 L1017.8 1195.7 L1022.7 1196.4 L1027.5 1197.2 L1032.2 1198.0 L1037.0 1198.9 L1041.8 1199.8 L1046.5 1200.7 L1051.3 1201.6 L1055.9 1202.4 L1060.2 1203.2 L1064.5 1204.0 L1069.0 1204.9 L1074.1 1205.8 L1080.0 1207.0 L1086.8 1208.3 L1094.5 1209.9 L1102.6 1211.5 L1111.0 1213.2 L1119.5 1214.9 L1127.6 1216.7 L1135.5 1218.5 L1143.4 1220.3 L1151.3 1222.2 L1159.3 1224.2 L1167.2 1226.1 L1175.1 1228.1 L1182.9 1230.1 L1190.6 1232.0 L1198.3 1234.0 L1206.1 1236.1 L1214.2 1238.1 L1222.7 1240.2 L1231.8 1242.3 L1241.4 1244.5 L1251.4 1246.7 L1261.3 1248.9 L1270.9 1251.1 L1280.0 1253.3 L1288.5 1255.4 L1296.6 1257.6 L1304.4 1259.7 L1312.1 1261.8 L1319.8 1263.9 L1327.6 1265.9 L1335.5 1267.9 L1343.4 1269.9 L1351.3 1271.9 L1359.3 1273.9 L1367.2 1275.8 L1375.1 1277.6 L1382.9 1279.3 L1390.6 1281.0 L1398.3 1282.6 L1406.1 1284.1 L1414.2 1285.6 L1422.7 1287.1 L1431.8 1288.6 L1441.4 1290.0 L1451.4 1291.4 L1461.3 1292.8 L1470.9 1294.1 L1480.0 1295.5 L1488.5 1296.8 L1496.6 1298.2 L1504.4 1299.5 L1512.1 1300.7 L1519.8 1302.0 L1527.6 1303.3 L1535.5 1304.6 L1543.4 1305.9 L1551.3 1307.2 L1559.3 1308.4 L1567.2 1309.7 L1575.1 1310.9 L1582.9 1312.1 L1590.6 1313.2 L1598.3 1314.3 L1606.1 1315.4 L1614.2 1316.5 L1622.7 1317.6 L1631.8 1318.8 L1641.4 1320.0 L1651.4 1321.2 L1661.3 1322.4 L1670.9 1323.5 L1680.0 1324.6 L1688.5 1325.6 L1696.6 1326.5 L1704.4 1327.4 L1712.1 1328.3 L1719.8 1329.2 L1727.6 1330.0 L1735.5 1330.8 L1743.4 1331.7 L1751.3 1332.5 L1759.3 1333.2 L1767.2 1334.0 L1775.1 1334.7 L1782.9 1335.4 L1790.6 1336.0 L1798.3 1336.7 L1806.1 1337.3 L1814.2 1337.9 L1822.7 1338.5 L1831.8 1339.1 L1841.5 1339.7 L1851.5 1340.2 L1861.4 1340.8 L1871.0 1341.4 L1880.0 1342.0 L1888.2 1342.6 L1896.0 1343.3 L1903.4 1343.9 L1910.6 1344.5 L1917.8 1345.2 L1925.2 1345.8 L1932.7 1346.4 L1940.3 1347.0 L1947.8 1347.6 L1955.3 1348.2 L1962.9 1348.8 L1970.4 1349.4 L1978.0 1350.0 L1985.6 1350.6 L1993.3 1351.3 L2000.9 1351.9 L2008.3 1352.5 L2015.6 1353.0 L2023.1 1353.5 L2031.1 1354.1 L2038.9 1354.6 L2046.1 1355.0 L2052.1 1355.4 L2056.5 1355.7" stroke="#0000ff"/>
<path d="M285.0 425.3 L286.2 428.4 L287.4 420.6 L288.6 402.6 L289.8 401.2 L291.0 396.4 L292.2 401.5 L293.4 394.0 L294.6 397.2 L295.8 375.0 L297.0 397.9 L298.2 382.6 L299.4 385.7 L300.6 376.8 L301.8 372.2 L303.0 375.8 L304.2 375.7 L305.4 365.3 L306.6 363.8 L307.8 368.1 L309.0 354.5 L310.2 347.7 L311.4 360.1 L312.6 350.2 L313.8 338.9 L315.0 345.2 L316.2 345.9 L317.4 338.5 L318.6 334.4 L319.8 343.9 L321.0 348.5 L322.2 338.1 L323.4 332.3 L324.6 338.9 L325.8 339.5 L327.0 329.9 L328.2 334.4 L329.4 336.2 L330.6 324.9 L331.8 318.4 L333.0 325.1 L334.2 322.4 L335.4 326.8 L336.6 307.0 L337.8 309.7 L339.0 306.4 L340.2 297.8 L341.4 310.6 L342.6 312.4 L343.8 301.8 L345.0 316.6 L346.2 311.2 L347.4 308.6 L348.6 305.7 L349.8 308.8 L351.0 290.7 L352.2 304.3 L353.4 303.3 L354.6 284.6 L355.8 299.5 L357.0 294.0 L358.2 300.8 L359.4 290.6 L360.6 292.6 L361.8 294.2 L363.0 284.0 L364.2 293.9 L365.4 287.5 L366.6 290.9 L367.8 282.2 L369.0 293.2 L370.2 288.4 L371.4 281.5 L372.6 286.4 L373.8 290.8 L375.0 294.6 L376.2 269.2 L377.4 287.5 L378.6 284.2 L379.8 279.8 L381.0 272.8 L382.2 289.6 L383.4 270.6 L384.6 284.1 L385.8 289.4 L387.0 267.5 L388.2 276.5 L389.4 268.2 L390.6 279.0 L391.8 287.7 L393.0 290.8 L394.2 261.4 L395.4 269.7 L396.6 278.5 L397.8 284.2 L399.0 274.8 L400.2 265.2 L401.4 272.2 L402.6 269.4 L403.8 267.6 L405.0 263.2 L406.2 271.1 L407.4 270.1 L408.6 266.7 L409.8 265.3 L411.0 256.8 L412.2 262.4 L413.4 274.7 L414.6 263.7 L415.8 254.0 L417.0 274.5 L418.2 268.3 L419.4 279.9 L420.6 264.3 L421.8 260.1 L423.0 252.5 L424.2 273.0 L425.4 282.1 L426.6 256.5 L427.8 257.5 L429.0 266.6 L430.2 255.7 L431.4 259.6 L432.6 258.8 L433.8 262.6 L435.0 269.3 L436.2 261.4 L437.4 268.4 L438.6 258.6 L439.8 264.4 L441.0 246.1 L442.2 251.5 L443.4 268.6 L444.6 258.4 L445.8 267.4 L447.0 267.3 L448.2 273.4 L449.4 269.8 L450.6 271.6 L451.8 263.3 L453.0 259.1 L454.2 258.9 L455.4 260.5 L456.6 255.5 L457.8 259.7 L459.0 262.9 L460.2 265.2 L461.4 260.6 L462.6 248.5 L463.8 262.2 L465.0 264.2 L466.2 270.4 L467.4 266.4 L468.6 257.1 L469.8 256.2 L471.0 276.7 L472.2 268.2 L473.4 277.1 L474.6 280.1 L475.8 258.9 L477.0 268.7 L478.2 270.1 L479.4 271.7 L480.6 272.4 L481.8 270.7 L483.0 270.9 L484.2 258.4 L485.4 268.6 L486.6 264.4 L487.8 271.0 L489.0 266.7 L490.2 275.0 L491.4 276.6 L492.6 273.3 L493.8 273.9 L495.0 272.8 L496.2 269.3 L497.4 272.1 L498.6 270.2 L499.8 277.4 L501.0 275.2 L502.2 280.0 L503.4 266.3 L504.6 283.5 L505.8 271.7 L507.0 272.0 L508.2 276.3 L509.4 275.0 L510.6 278.4 L511.8 276.6 L515.0 282.0 L515.3 282.8 L515.8 284.0 L516.4 285.4 L517.0 286.9 L517.5 288.5 L518.0 290.0 L518.4 291.4 L518.7 292.8 L519.0 294.2 L519.3 295.9 L519.6 297.7 L520.0 300.0 L520.5 302.7 L521.1 305.9 L521.7 309.2 L522.3 312.8 L522.9 316.4 L523.5 320.0 L524.0 323.3 L524.5 326.4 L524.9 329.6 L525.3 333.1 L525.7 337.2 L526.2 342.0 L526.7 347.9 L527.2 354.6 L527.7 361.8 L528.2 369.3 L528.6 376.8 L529.1 384.0 L529.5 391.0 L529.9 398.0 L530.3 404.9 L530.7 411.8 L531.1 418.5 L531.5 425.0 L531.9 431.1 L532.3 436.7 L532.7 442.2 L533.1 447.8 L533.4 453.7 L533.8 460.0 L534.2 466.9 L534.5 474.3 L534.8 481.9 L535.2 489.6 L535.5 497.4 L535.8 505.0 L536.1 512.4 L536.4 519.8 L536.7 527.2 L537.0 534.6 L537.3 542.2 L537.6 550.0 L537.9 558.0 L538.2 566.3 L538.4 574.7 L538.7 583.1 L538.9 591.6 L539.2 600.0 L539.5 608.3 L539.7 616.5 L540.0 624.7 L540.2 633.0 L540.4 641.4 L540.7 650.0 L540.9 659.0 L541.2 668.3 L541.4 677.7 L541.7 687.1 L542.0 696.2 L542.3 705.0 L542.7 713.5 L543.1 722.0 L543.6 730.2 L544.1 738.0 L544.6 745.4 L545.0 752.0 L545.4 758.0 L545.7 763.4 L546.0 768.3 L546.3 772.7 L546.6 776.6 L547.0 780.0 L547.4 782.9 L547.9 785.2 L548.4 787.0 L549.0 788.4 L549.5 789.4 L550.0 790.0 L550.5 790.3 L551.0 790.2 L551.5 789.8 L552.0 788.9 L552.5 787.6 L553.0 786.0 L553.5 783.6 L554.0 780.3 L554.6 776.6 L555.1 773.0 L555.6 770.0 L556.0 768.0 L556.4 766.9 L556.7 766.2 L557.1 766.1 L557.4 766.7 L557.7 767.9 L558.0 770.0 L558.3 773.2 L558.7 777.6 L559.0 782.8 L559.3 788.1 L559.7 793.4 L560.0 798.0 L560.3 801.9 L560.7 805.5 L561.1 808.9 L561.4 812.3 L561.7 815.9 L562.0 820.0 L562.2 824.5 L562.4 829.4 L562.6 834.5 L562.7 839.7 L562.9 844.9 L563.0 850.0 L563.1 855.1 L563.2 860.4 L563.3 865.6 L563.4 870.7 L563.4 875.6 L563.5 880.0 L563.6 884.0 L563.6 887.6 L563.7 890.9 L563.8 894.0 L563.9 897.0 L564.0 900.0 L564.1 902.7 L564.2 905.0 L564.3 907.1 L564.5 909.5 L564.7 912.3 L565.0 916.0 L565.4 920.7 L565.9 926.2 L566.4 932.2 L566.9 938.4 L567.5 944.5 L568.0 950.0 L568.5 955.0 L568.9 959.8 L569.4 964.4 L569.9 968.9 L570.4 973.4 L571.0 978.0 L571.7 982.7 L572.4 987.6 L573.2 992.4 L574.0 997.2 L575.0 1001.7 L576.0 1006.0 L577.1 1010.0 L578.4 1013.8 L579.7 1017.4 L581.1 1020.9 L582.5 1024.0 L584.0 1027.0 L585.5 1029.7 L587.1 1032.1 L588.8 1034.2 L590.4 1036.3 L592.2 1038.2 L594.0 1040.0 L595.8 1041.9 L597.6 1043.9 L599.4 1045.8 L601.4 1047.3 L603.5 1048.5 L606.0 1049.0 L608.9 1048.7 L612.1 1047.8 L615.6 1046.4 L619.1 1044.8 L622.5 1043.3 L625.7 1042.0 L628.7 1040.9 L631.6 1039.7 L634.4 1038.5 L637.2 1037.6 L639.8 1036.9 L642.4 1036.7 L644.9 1037.0 L647.2 1037.7 L649.5 1038.8 L651.7 1040.0 L653.9 1041.4 L656.0 1042.8 L658.1 1044.2 L660.2 1045.8 L662.3 1047.5 L664.3 1049.3 L666.2 1051.3 L668.0 1053.5 L669.7 1055.8 L671.3 1058.1 L672.9 1060.7 L674.4 1063.4 L675.9 1066.5 L677.4 1070.0 L679.0 1074.0 L680.5 1078.5 L682.1 1083.3 L683.7 1088.3 L685.2 1093.3 L686.6 1098.0 L688.0 1102.6 L689.2 1107.1 L690.4 1111.7 L691.7 1116.2 L692.9 1120.6 L694.3 1125.0 L695.8 1129.3 L697.4 1133.4 L699.1 1137.6 L700.8 1141.7 L702.3 1145.8 L703.7 1150.0 L704.9 1154.3 L705.9 1158.7 L706.9 1163.1 L707.8 1167.5 L708.7 1171.8 L709.7 1176.0 L710.7 1180.0 L711.8 1184.0 L712.9 1187.8 L714.0 1191.6 L715.1 1195.3 L716.2 1199.0 L717.3 1202.6 L718.5 1206.1 L719.6 1209.5 L720.8 1212.9 L722.0 1216.4 L723.2 1220.0 L724.5 1223.7 L725.9 1227.5 L727.3 1231.4 L728.6 1235.3 L730.0 1239.1 L731.3 1243.0 L732.5 1246.8 L733.7 1250.7 L734.8 1254.5 L735.9 1258.3 L737.0 1262.2 L738.2 1266.0 L739.4 1269.8 L740.6 1273.7 L741.9 1277.5 L743.1 1281.3 L744.4 1285.2 L745.7 1289.0 L747.0 1292.8 L748.2 1296.7 L749.5 1300.5 L750.8 1304.3 L752.2 1308.2 L753.8 1312.0 L755.5 1315.8 L757.4 1319.7 L759.3 1323.5 L761.3 1327.3 L763.3 1331.2 L765.3 1335.0 L767.3 1338.9 L769.3 1342.9 L771.3 1346.9 L773.4 1350.9 L775.4 1354.6 L777.4 1358.0 L779.3 1361.1 L781.2 1364.0 L783.1 1366.7 L785.0 1369.2 L787.0 1371.6 L789.0 1374.0 L791.0 1376.3 L792.9 1378.5 L794.9 1380.7 L797.0 1382.7 L799.4 1384.6 L802.2 1386.5 L805.5 1388.3 L809.1 1390.0 L813.1 1391.6 L817.2 1393.1 L821.3 1394.4 L825.2 1395.7 L829.0 1396.8 L832.9 1397.8 L836.8 1398.7 L840.6 1399.4 L844.4 1400.2 L848.2 1400.9 L851.7 1401.6 L855.0 1402.2 L858.2 1402.8 L861.6 1403.3 L865.4 1403.8 L870.0 1404.3 L875.0 1404.8 L880.3 1405.3 L886.0 1405.7 L892.4 1406.1 L899.7 1406.6 L908.0 1407.0 L917.5 1407.4 L928.1 1407.9 L939.6 1408.3 L951.7 1408.7 L964.2 1409.1 L977.0 1409.5 L986.6 1409.9 L992.6 1410.2 L998.9 1410.5 L1009.9 1410.8 L1029.5 1411.1 L1062.0 1411.5 L1110.0 1411.9 L1170.7 1412.4 L1240.1 1412.9 L1314.1 1413.3 L1388.8 1413.7 L1460.0 1414.0 L1531.9 1414.1 L1608.4 1414.2 L1685.5 1414.1 L1759.2 1414.1 L1825.4 1414.0 L1880.0 1414.0 L1922.3 1414.0 L1955.4 1414.1 L1980.9 1414.2 L2000.7 1414.3 L2016.5 1414.4 L2030.0 1414.5 L2039.0 1414.6 L2041.8 1414.8 L2040.5 1415.0 L2037.5 1415.2 L2034.9 1415.4 L2035.0 1415.5 L2037.9 1415.6 L2041.7 1415.6 L2046.1 1415.6 L2050.3 1415.5 L2054.0 1415.5 L2056.5 1415.5" stroke="#808000"/>
<path d="M286.5 800.0 L287.0 760.0 L287.8 720.0 L289.3 690.0 L290.3 660.0 L292.0 632.0 L293.3 605.0 L294.5 580.0 L296.0 563.0 L298.0 553.0 L300.0 547.0 L302.5 546.0 L303.5 588.0 L305.5 578.0 L307.5 553.0 L310.0 548.0 L312.5 550.0 L314.0 575.0 L316.0 611.0 L318.0 608.0 L319.5 585.0 L321.5 568.0 L324.0 565.0 L326.0 568.0 L327.0 610.0 L327.5 650.0 L328.0 676.0 L332.0 678.0 L336.0 680.0 L338.0 694.0 L339.5 718.0 L341.0 752.0 L343.0 800.0 L344.0 850.0 L345.0 900.0 L346.0 950.0 L347.5 1000.0 L348.5 1100.0 L349.7 1200.0 L352.5 1255.0 L354.6 1310.0 L357.3 1352.0 L360.8 1380.0 L365.0 1400.0 L371.0 1414.0 L378.0 1420.0 L385.0 1422.4 L463.0 1422.8 L466.0 1425.0 L505.0 1425.2 L508.0 1427.6 L547.0 1427.6 L550.0 1429.4 L2056.5 1429.4" stroke="#ff00ff"/>
</g>
<g font-size="74" text-anchor="middle">
<text x="283.5" y="1582">200</text>
<text x="431.1" y="1582">250</text>
<text x="578.7" y="1582">300</text>
<text x="726.3" y="1582">350</text>
<text x="873.9" y="1582">400</text>
<text x="1021.5" y="1582">450</text>
<text x="1169.1" y="1582">500</text>
<text x="1316.7" y="1582">550</text>
<text x="1464.3" y="1582">600</text>
<text x="1611.9" y="1582">650</text>
<text x="1759.5" y="1582">700</text>
<text x="1907.1" y="1582">750</text>
<text x="2054.7" y="1582">800</text>
</g>
<g font-size="74" text-anchor="end">
<text x="225" y="1446.9">0</text>
<text x="225" y="1209.8">1</text>
<text x="225" y="972.8">2</text>
<text x="225" y="735.7">3</text>
<text x="225" y="498.7">4</text>
<text x="225" y="261.6">5</text>
</g>
<g stroke-width="7.8" stroke-linecap="round">
<line x1="1499" y1="98.1" x2="1652" y2="98.1" stroke="#808000"/>
<line x1="1499" y1="184.4" x2="1652" y2="184.4" stroke="#ff00ff"/>
<line x1="1499" y1="290.8" x2="1652" y2="290.8" stroke="#000000"/>
<line x1="1499" y1="375.2" x2="1652" y2="375.2" stroke="#ff0000"/>
<line x1="1499" y1="459.9" x2="1652" y2="459.9" stroke="#0000ff"/>
</g>
<g font-size="70">
<text x="1669" y="122.7" textLength="349.6" lengthAdjust="spacingAndGlyphs">Leaf extract</text>
<text x="1668" y="207" textLength="185.2" lengthAdjust="spacingAndGlyphs">AgNO</text>
<text x="1852.8" y="233.3" font-size="40">3</text>
<text x="1666.7" y="313.7" textLength="181.9" lengthAdjust="spacingAndGlyphs">5&#160;&#160;min</text>
<text x="1665.1" y="398.3" textLength="201.3" lengthAdjust="spacingAndGlyphs">10 min</text>
<text x="1665.1" y="484.7" textLength="201.3" lengthAdjust="spacingAndGlyphs">15 min</text>
</g>
<text x="807" y="960.5" font-size="66" textLength="36" lengthAdjust="spacingAndGlyphs" style="font-weight:normal">&#955;</text>
<text x="843" y="989" font-size="44">max</text>
<text x="924" y="960.5" font-size="72">426 nm</text>
<line x1="949.1" y1="1168" x2="949.1" y2="1050" stroke="#1a1a1a" stroke-width="1.9"/>
<polygon points="949.1,1020 939.5,1056.5 958.7,1056.5" fill="#000"/>
<text x="846.6" y="1725" font-size="88" textLength="643.6" lengthAdjust="spacingAndGlyphs">Wavelength (nm)</text>
<text transform="translate(76,776) rotate(-90)" font-size="88" text-anchor="middle">Absorbance</text>
<rect x="0" y="893" width="2136" height="1" fill="#fff" fill-opacity="0.25"/>
</svg>
</body></html>
